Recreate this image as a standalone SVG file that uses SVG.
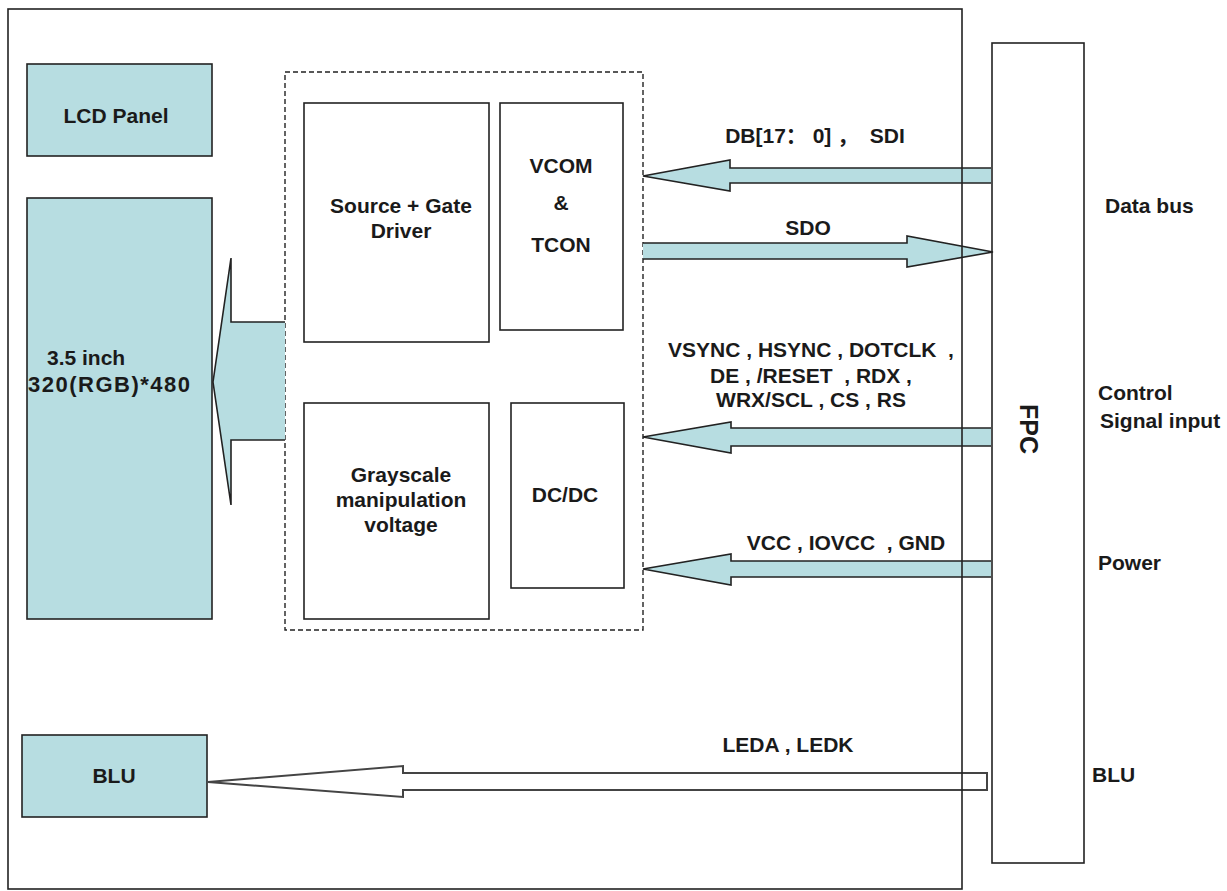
<svg xmlns="http://www.w3.org/2000/svg" width="1227" height="891" viewBox="0 0 1227 891">
<style>
.box{fill:#fff;stroke:#222;stroke-width:1.6}
.blue{fill:#B7DDE1;stroke:#222;stroke-width:1.6}
.dash{fill:none;stroke:#222;stroke-width:1.4;stroke-dasharray:5,3}
.afill{fill:#B7DDE1;stroke:none}
.aline{fill:none;stroke:#222;stroke-width:1.6;stroke-linejoin:miter}
.t{font-family:"Liberation Sans",Arial,"Noto Sans CJK SC",sans-serif;font-weight:bold;font-size:21px;fill:#1a1a1a}
.m{text-anchor:middle}
</style>
<rect x="0" y="0" width="1227" height="891" fill="#fff"/>

<g id="lcd-panel">
<rect class="blue" x="27" y="64" width="185" height="92"/>
<text class="t m" x="116" y="123">LCD Panel</text>
</g>

<g id="display">
<rect class="blue" x="27" y="198" width="185" height="421"/>
<text class="t" x="47" y="365">3.5 inch</text>
<text class="t" x="28" y="392" style="font-size:22px;letter-spacing:1.5px">320(RGB)*480</text>
</g>

<g id="driver-ic">
<rect class="dash" x="285" y="72" width="358" height="558"/>
</g>

<g id="source-gate">
<rect class="box" x="304" y="103" width="185" height="239"/>
<text class="t m" x="401" y="213">Source + Gate</text>
<text class="t m" x="401" y="238">Driver</text>
</g>

<g id="vcom-tcon">
<rect class="box" x="500" y="103" width="123" height="227"/>
<text class="t m" x="561" y="173">VCOM</text>
<text class="t m" x="561" y="210">&amp;</text>
<text class="t m" x="561" y="252">TCON</text>
</g>

<g id="grayscale">
<rect class="box" x="304" y="403" width="185" height="216"/>
<text class="t m" x="401" y="482">Grayscale</text>
<text class="t m" x="401" y="507">manipulation</text>
<text class="t m" x="401" y="532">voltage</text>
</g>

<g id="dcdc">
<rect class="box" x="511" y="403" width="113" height="185"/>
<text class="t m" x="565" y="502">DC/DC</text>
</g>

<g id="blu">
<rect class="blue" x="22" y="735" width="185" height="82"/>
<text class="t m" x="114" y="783">BLU</text>
</g>

<g id="fpc">
<rect class="box" x="992" y="43" width="92" height="820"/>
<text class="t m" style="font-size:25px" transform="translate(1020,429) rotate(90)" x="0" y="0">FPC</text>
</g>

<g id="connectors">
<path class="afill" d="M285,322 L231,322 L231,258 L213,382 L231,505 L231,440 L285,440 Z"/>
<path class="aline" d="M285,322 L231,322 L231,258 L213,382 L231,505 L231,440 L285,440"/>
<path class="afill" d="M991,168 L730,168 L730,160 L643,176 L730,191 L730,183 L991,183 Z"/>
<path class="aline" d="M991,168 L730,168 L730,160 L643,176 L730,191 L730,183 L991,183"/>
<path class="afill" d="M643,243 L907,243 L907,236 L993,252 L907,267 L907,259 L643,259 Z"/>
<path class="aline" d="M643,243 L907,243 L907,236 L993,252 L907,267 L907,259 L643,259"/>
<path class="afill" d="M991,428 L731,428 L731,422 L643,437 L731,453 L731,446 L991,446 Z"/>
<path class="aline" d="M991,428 L731,428 L731,422 L643,437 L731,453 L731,446 L991,446"/>
<path class="afill" d="M991,561 L731,561 L731,554 L643,569 L731,585 L731,577 L991,577 Z"/>
<path class="aline" d="M991,561 L731,561 L731,554 L643,569 L731,585 L731,577 L991,577"/>
<path fill="#fff" stroke="#444" stroke-width="2" d="M208,782 L403,766 L403,773 L987,773 L987,790 L403,790 L403,797 Z"/>
<text class="t m" x="815" y="143" xml:space="preserve">DB[17： 0] ，  SDI</text>
<text class="t m" x="808" y="235">SDO</text>
<text class="t m" x="811" y="357" xml:space="preserve">VSYNC , HSYNC , DOTCLK  ,</text>
<text class="t m" x="811" y="383" xml:space="preserve">DE , /RESET  , RDX ,</text>
<text class="t m" x="811" y="407">WRX/SCL , CS , RS</text>
<text class="t m" x="846" y="550" xml:space="preserve">VCC , IOVCC  , GND</text>
<text class="t m" x="788" y="752">LEDA , LEDK</text>
</g>

<g id="labels">
<text class="t" x="1105" y="213">Data bus</text>
<text class="t" x="1098" y="400">Control</text>
<text class="t" x="1100" y="428">Signal input</text>
<text class="t" x="1098" y="570">Power</text>
<text class="t" x="1092" y="782">BLU</text>
</g>

<g id="frame">
<rect x="8" y="9" width="954" height="880" fill="none" stroke="#222" stroke-width="1.6"/>
</g>
</svg>
